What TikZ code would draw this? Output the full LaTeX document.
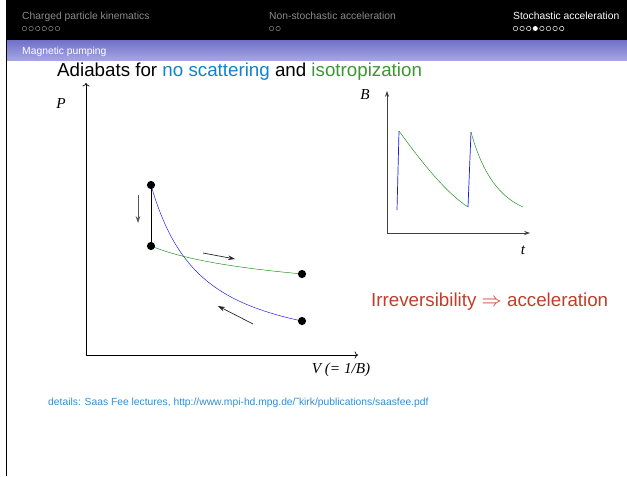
\documentclass[tikz,border=0pt]{standalone}
\usepackage{fontspec}
\setmainfont{Liberation Sans}
\newfontfamily\lblfont{Liberation Serif}
\usetikzlibrary{arrows.meta}

\definecolor{titleblue}{RGB}{20,130,200}
\definecolor{adgreen}{RGB}{60,150,50}
\definecolor{alertred}{RGB}{195,60,40}
\definecolor{linkblue}{RGB}{50,140,210}
\definecolor{bandtop}{RGB}{112,112,200}
\definecolor{bandbot}{RGB}{165,165,228}
\definecolor{navgray}{RGB}{140,140,140}
\definecolor{curveblue}{RGB}{25,25,240}
\definecolor{curvegreen}{RGB}{20,145,20}

\begin{document}
\begin{tikzpicture}[x=0.03cm,y=-0.03cm,
    dot/.style={circle,fill=black,inner sep=0pt,minimum size=7pt},
    lbl/.style={font=\lblfont\itshape\fontsize{13}{15}\selectfont,inner sep=0pt},
    navtext/.style={font=\fontsize{8.8}{10}\selectfont,anchor=base west,inner sep=0pt},
    flow/.style={-{Stealth[length=6pt,width=4pt]},black!85,semithick},
    axisr/.style={-{Stealth[length=5pt,width=3.5pt]},black!75,semithick}]
    \useasboundingbox (0,0) rectangle (627,476);

    % Headline
    \fill[black] (6,0) rectangle (627,40);
    \shade[top color=bandtop,bottom color=bandbot] (6,40) rectangle (627,60);
    \draw[black,line width=0.8pt] (6.5,0) -- (6.5,476);
    \node[navtext,navgray] (sec1) at (22,20) {Charged particle kinematics};
    \node[navtext,navgray] (sec2) at (269,20) {Non-stochastic acceleration};
    \node[navtext,white] (sec3) at (513,20) {Stochastic acceleration};
    \foreach \i in {0,...,5}
      \draw[navgray] (24.5+6.6*\i,28.5) circle[radius=1.9pt];
    \foreach \i in {0,1}
      \draw[navgray] (271.5+6.6*\i,28.5) circle[radius=1.9pt];
    \foreach \i in {0,...,7}{
      \ifnum\i=3
        \fill[white] (515.5+6.6*\i,28.5) circle[radius=2.1pt];
      \else
        \draw[white] (515.5+6.6*\i,28.5) circle[radius=1.9pt];
      \fi
    }
    \node[navtext,white] (subsec) at (22,54) {Magnetic pumping};

    % Title
    \node[anchor=base west,inner sep=0pt,font=\fontsize{16}{19}\selectfont] (title) at (57,76)
      {Adiabats for \textcolor{titleblue}{no scattering} and \textcolor{adgreen}{isotropization}};

    % P-V diagram
    \coordinate (O) at (86,355);
    \coordinate (Ptip) at (86,83);
    \coordinate (Vtip) at (358,355);
    \draw[->,semithick] (O) -- (Ptip);
    \draw[->,semithick] (O) -- (Vtip);
    \node[lbl] (Plab) at (61,104) {P};
    \node[lbl] (Vlab) at (341,370) {V (= 1/B)};

    \draw[curveblue] plot[domain=65:216,samples=80] ({86+\x},{355-170*(65/\x)^1.34});
    \draw[curvegreen] plot[domain=65:216,samples=80] ({86+\x},{355-109*(65/\x)^0.247});
    \node[dot] (top) at (151,185) {};
    \node[dot] (mid) at (151,246) {};
    \node[dot] (gend) at (302,274) {};
    \node[dot] (bend) at (302,321) {};
    \draw[semithick] (top) -- (mid);

    \coordinate (d1) at (138,195);
    \coordinate (d2) at (138,223);
    \coordinate (r1) at (203,253);
    \coordinate (r2) at (235,259);
    \coordinate (l1) at (253,324);
    \coordinate (l2) at (218,306);
    \draw[flow,black!65] (d1) -- (d2);
    \draw[flow] (r1) -- (r2);
    \draw[flow] (l1) -- (l2);

    % B(t)
    \coordinate (Ob) at (387,233);
    \coordinate (Btip) at (387,91);
    \coordinate (ttip) at (530,233);
    \draw[axisr] (Ob) -- (Btip);
    \draw[axisr] (Ob) -- (ttip);
    \node[lbl] (Blab) at (365,95) {B};
    \node[lbl] (tlab) at (523,250) {t};

    \coordinate (s0) at (397,210);
    \coordinate (s1) at (399,131);
    \coordinate (s2) at (468,207);
    \coordinate (s3) at (471,132);
    \coordinate (s4) at (523,207);
    \draw[curveblue,semithick] (s0) -- (s1);
    \draw[curvegreen] (s1) .. controls (420,160) and (445,192) .. (s2);
    \draw[curveblue,semithick] (s2) -- (s3);
    \draw[curvegreen] (s3) .. controls (480,165) and (495,195) .. (s4);

    % Conclusion
    \node[anchor=base west,inner sep=0pt,text=alertred,font=\fontsize{16}{19}\selectfont] (irr) at (371,306)
      {Irreversibility $\Rightarrow$ acceleration};

    % Reference
    \node[anchor=base west,inner sep=0pt,text=linkblue,font=\fontsize{8.8}{10}\selectfont] (ref) at (48,405)
      {details: Saas Fee lectures, http://www.mpi-hd.mpg.de/˜kirk/publications/saasfee.pdf};
\end{tikzpicture}
\end{document}
